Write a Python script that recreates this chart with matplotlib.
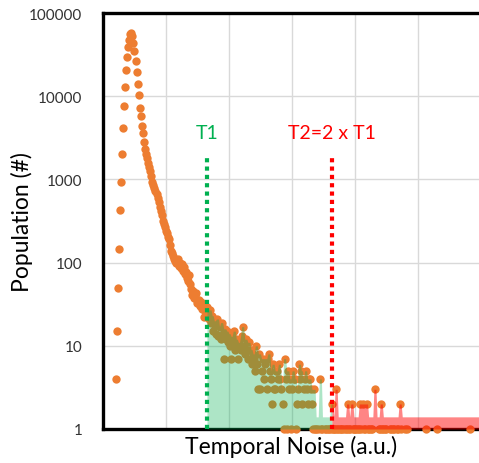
import numpy as np
import pandas as pd
import matplotlib
matplotlib.use("Agg")
import matplotlib.pyplot as plt

# ---------------------------------------------
# data: histogram of temporal noise (one count per bin)
# ---------------------------------------------
first_bin = 12
counts = [
    # rising edge + peak
    4, 15, 50, 146, 426, 920, 2000, 4100, 7600, 13000, 20600, 29500, 39000,
    48000, 56000, 58000, 53000,
    # decay
    44000, 35000, 26700, 19700, 14000, 10300, 7200, 5780, 4370, 3630, 2820,
    2300, 2000, 1800, 1580, 1400, 1270,
    1100, 930, 850, 780, 720, 670,
    600, 540, 470, 420, 370, 320,
    290, 265, 242, 225, 205, 192,
    165, 139, 130, 120, 110, 105,
    98, 112, 92, 100, 86, 95, 80, 88, 72, 78, 66, 60, 70,
    55, 48, 41, 46, 38, 40, 43, 33, 36, 30, 34, 28, 31, 22, 26, 24, 29,
    # above T1
    25, 21, 27, 19, 23, 15, 20, 18, 14, 21, 13, 17, 12, 19, 14, 7, 16, 12, 15, 11,
    14, 10, 7, 13, 11, 15, 9, 12, 10, 7, 11, 9, 13, 17, 10, 8, 12, 9, 7, 11, 9,
    9, 6, 8, 7, 5, 10, 6, 3, 8, 3, 5, 7, 4, 6, 7, 3, 7, 8, 5, 4,
    2, 6, 3, 3, 5, 5, 4, 6, 4, 3, 2, 1, 7, 4, 1, 5, 3, 4, 1, 3,
    5, 4, 4, 1, 2, 3, 6, 4, 5, 2, 3, 4, 5, 3, 2, 4, 4, 3, 2, 1,
    3, 1, 1, 0, 1, 0, 4, 1, 1, 0, 1, 1, 0, 1, 1, 0, 1, 2,
    # above T2
    1, 1, 1, 3, 1, 1, 0, 1, 1, 1, 0, 1, 1, 1, 2, 1, 1, 0, 2, 1,
    1, 1, 1, 0, 1, 1, 2, 1, 0, 2, 1, 1, 2, 1, 1, 0, 1, 1, 0, 0,
    3, 0, 0, 0, 1, 1, 2, 1, 1, 0, 1, 1, 0, 0, 1, 1, 0, 1, 1, 0,
    0, 1, 1, 0, 2, 1, 0, 0, 0, 1, 0, 1, 0, 0, 0, 0, 0, 0, 0, 0,
    0, 0, 0, 0, 0, 0, 0, 0, 0, 1, 0, 0, 0, 0, 0, 0, 0, 0, 0, 1,
    0, 0, 0, 0, 0, 0, 0, 0, 0, 0, 0, 0, 0, 0, 0, 0, 0, 0, 0, 0,
    0, 0, 0, 0, 0, 0, 0, 0, 0, 0, 0, 1, 0, 0, 0, 0, 0, 0, 0, 0,
]
T1 = 99
T2 = 218
line_top = 2000
y_ticks = [1, 10, 100, 1000, 10000, 100000]
y_tick_labels = ['1', '10', '100', '1000', '10000', '100000']

ORANGE = '#ED7D31'
GREEN = '#00B050'
RED = '#FF0000'

x = np.arange(first_bin, first_bin + len(counts))
c = np.array(counts, dtype=float)
area = pd.Series(c).rolling(3, center=True, min_periods=1).max().to_numpy()
area = np.maximum(area, 1.4)

plt.rcParams['font.family'] = ['Lato', 'DejaVu Sans']

fig = plt.figure(figsize=(4.79, 4.64), dpi=100)
ax = fig.add_axes([103 / 479, 34 / 464, 376 / 479, 416 / 464])

# scatter of the histogram
nz = c > 0
ax.scatter(x[nz], c[nz], s=36, color=ORANGE, lw=0, zorder=3, clip_on=False)

# shaded areas above T1 and T2
g = (x >= T1) & (x <= T2)
r = x >= T2
ax.fill_between(x[g], 1, area[g], color=GREEN, alpha=0.32, lw=0, zorder=4)
ax.fill_between(x[r], 1, area[r], color=RED, alpha=0.48, lw=0, zorder=4)

# threshold lines
ax.plot([T1, T1], [1, line_top], color=GREEN, lw=3, linestyle=(0, (1, 1)),
        dash_capstyle='butt', zorder=5)
ax.plot([T2, T2], [1, line_top], color=RED, lw=3, linestyle=(0, (1, 1)),
        dash_capstyle='butt', zorder=5)
ax.text(T1, 3700, 'T1', color=GREEN, fontsize=14, ha='center', va='center')
ax.text(T2, 3700, 'T2=2 x T1', color=RED, fontsize=14, ha='center', va='center')

ax.set_yscale('log')
ax.set_ylim(1, 100000)
ax.set_xlim(0, 358.1)
ax.set_yticks(y_ticks)
ax.set_yticklabels(y_tick_labels)
ax.yaxis.set_minor_locator(matplotlib.ticker.NullLocator())
ax.set_xticks([60, 120, 180, 240, 300])
ax.set_xticklabels([])
ax.tick_params(length=0, labelsize=11, labelcolor='#333333')
ax.tick_params(axis='y', pad=15)
ax.tick_params(axis='x', pad=0)
ax.grid(True, color='#D9D9D9', lw=1)
ax.set_axisbelow(True)

for s in ['top', 'left', 'bottom']:
    ax.spines[s].set_linewidth(2.4)
    ax.spines[s].set_color('black')
ax.spines['right'].set_visible(False)

ax.set_ylabel('Population (#)', fontsize=16.5, labelpad=-3)
ax.set_xlabel('Temporal Noise (a.u.)', fontsize=16.5, labelpad=4)

fig.savefig('out.png', dpi=100)
